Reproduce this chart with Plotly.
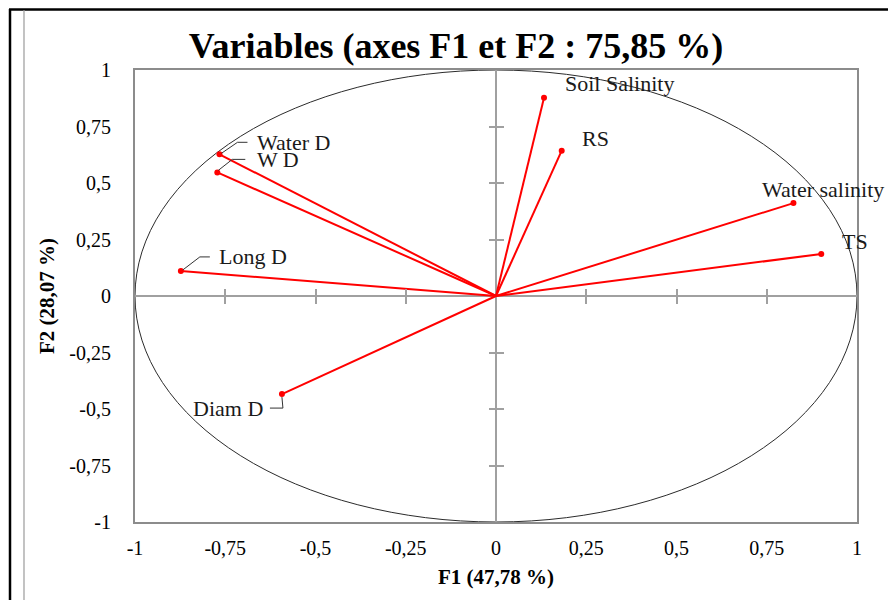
import plotly.graph_objects as go

# ---------------- data ----------------
variables = ["Soil Salinity", "RS", "Water salinity", "TS", "Water D", "W D", "Long D", "Diam D"]
f1 = [0.133, 0.182, 0.824, 0.901, -0.766, -0.772, -0.873, -0.593]
f2 = [0.877, 0.643, 0.411, 0.186, 0.627, 0.547, 0.111, -0.434]

tick_vals = [-1, -0.75, -0.5, -0.25, 0, 0.25, 0.5, 0.75, 1]
tick_text = ["-1", "-0,75", "-0,5", "-0,25", "0", "0,25", "0,5", "0,75", "1"]
minor_vals = [-0.75, -0.5, -0.25, 0.25, 0.5, 0.75]

title_text = "Variables (axes F1 et F2 : 75,85 %)"
x_title = "F1 (47,78 %)"
y_title = "F2 (28,07 %)"

# ---------------- styling / layout geometry ----------------
W, H = 896, 600
OFF = 8                      # page body margin of the browser
# plot area in page pixels
PL, PR, PT, PB = 135, 857, 70, 522
L, T = PL - OFF, PT - OFF
R, B = W - (PR - OFF), H - (PB - OFF)
pw, ph = PR - PL, PB - PT
sx, sy = pw / 2.0, ph / 2.0   # pixels per data unit

# label offsets in pixels (dx right, dy down) and anchor
label_style = {
    "Soil Salinity": (19, -14, "left"),
    "RS": (18, -12, "left"),
    "Water salinity": (-33, -14, "left"),
    "TS": (19, -12, "left"),
    "Water D": (36, -12, "left"),
    "W D": (38, -13, "left"),
    "Long D": (36, -14, "left"),
    "Diam D": (-17, 14, "right"),
}
# leader lines (pixel offsets from the point): start, bend, end
leaders = {
    "Water D": [(2, -1), (18, -12), (28, -12)],
    "W D": [(1, -2), (15, -13), (28, -13)],
    "Long D": [(2, -1), (19, -14), (29, -14)],
    "Diam D": [(0, 3), (1, 14), (-12, 14)],
}

FONT = "Liberation Serif"
RED = "#ff0000"
GRAY = "#8c8c8c"

fig = go.Figure()

# vectors from origin
lx, ly = [], []
for a, b in zip(f1, f2):
    lx += [0, a, None]
    ly += [0, b, None]
fig.add_trace(go.Scatter(x=lx, y=ly, mode="lines", line=dict(color=RED, width=2),
                         hoverinfo="skip", showlegend=False))
fig.add_trace(go.Scatter(x=f1, y=f2, mode="markers", marker=dict(color=RED, size=6),
                         text=variables, showlegend=False))

# leader lines
for name, a, b in zip(variables, f1, f2):
    if name in leaders:
        xs = [a + dx / sx for dx, dy in leaders[name]]
        ys = [b - dy / sy for dx, dy in leaders[name]]
        fig.add_trace(go.Scatter(x=xs, y=ys, mode="lines", line=dict(color="#333333", width=1),
                                 hoverinfo="skip", showlegend=False))

# dummy traces to instantiate tick-only overlay axes on the zero lines
fig.add_trace(go.Scatter(x=[0], y=[0], xaxis="x2", yaxis="y2", mode="markers",
                         marker=dict(opacity=0), hoverinfo="skip", showlegend=False))
fig.add_trace(go.Scatter(x=[0], y=[0], xaxis="x3", yaxis="y3", mode="markers",
                         marker=dict(opacity=0), hoverinfo="skip", showlegend=False))

# labels
for name, a, b in zip(variables, f1, f2):
    dx, dy, anc = label_style[name]
    fig.add_annotation(x=a, y=b, text=name, showarrow=False, xanchor=anc, yanchor="middle",
                       xshift=dx, yshift=-dy, font=dict(family=FONT, size=22, color="#1a1a1a"))

# correlation circle
fig.add_shape(type="circle", xref="x", yref="y", x0=-1, y0=-1, x1=1, y1=1,
              line=dict(color="#2b2b2b", width=1), layer="below")

# page frame (page pixel -> paper coords)
def px(xp):
    return (xp - PL) / pw

def py(yp):
    return (PB - yp) / ph

fig.add_shape(type="line", xref="paper", yref="paper", x0=px(10), x1=px(10), y0=py(9), y1=py(640),
              line=dict(color="black", width=2.5))
fig.add_shape(type="line", xref="paper", yref="paper", x0=px(9), x1=px(920), y0=py(9.5), y1=py(9.5),
              line=dict(color="black", width=2.5))
fig.add_shape(type="line", xref="paper", yref="paper", x0=px(24), x1=px(24), y0=py(10), y1=py(640),
              line=dict(color="#9a9a9a", width=1.2))
fig.add_shape(type="line", xref="paper", yref="paper", x0=px(894), x1=px(894), y0=py(11), y1=py(640),
              line=dict(color="#9a9a9a", width=1.2))

# axis titles
fig.add_annotation(xref="paper", yref="paper", x=0.5, y=py(577), text="<b>" + x_title + "</b>",
                   showarrow=False, xanchor="center", yanchor="middle",
                   font=dict(family=FONT, size=21, color="black"))
fig.add_annotation(xref="paper", yref="paper", x=px(47), y=0.5, text="<b>" + y_title + "</b>",
                   showarrow=False, textangle=-90, xanchor="center", yanchor="middle",
                   font=dict(family=FONT, size=21, color="black"))

axis_common = dict(range=[-1, 1], showgrid=False, fixedrange=True)
overlay_common = dict(**axis_common, anchor="free", position=0.5, tickvals=minor_vals, ticklen=7,
                      tickcolor="#a0a0a0", tickwidth=1.5, showticklabels=False, showline=False,
                      zeroline=False)

fig.update_layout(
    width=W, height=H,
    margin=dict(l=L, r=R, t=T, b=B),
    paper_bgcolor="white", plot_bgcolor="white",
    font=dict(family=FONT, color="black"),
    title=dict(text="<b>" + title_text + "</b>", x=(456 - OFF) / W, xref="container", xanchor="center",
               y=1 - (45 - OFF) / H, yref="container", yanchor="middle",
               font=dict(family=FONT, size=36, color="black")),
    xaxis=dict(**axis_common, tickvals=tick_vals, ticktext=tick_text, ticks="",
               showline=True, mirror=True, linecolor=GRAY, linewidth=2,
               zeroline=True, zerolinecolor="#a0a0a0", zerolinewidth=1.5,
               tickfont=dict(family=FONT, size=20, color="black"), ticklabelstandoff=7),
    yaxis=dict(**axis_common, tickvals=tick_vals, ticktext=tick_text, ticks="",
               showline=True, mirror=True, linecolor=GRAY, linewidth=2,
               zeroline=True, zerolinecolor="#a0a0a0", zerolinewidth=1.5,
               tickfont=dict(family=FONT, size=20, color="black"), ticklabelstandoff=18),
    xaxis2=dict(**overlay_common, overlaying="x", ticks="outside"),
    yaxis2=dict(**overlay_common, overlaying="y", ticks="outside"),
    xaxis3=dict(**overlay_common, overlaying="x", ticks="inside"),
    yaxis3=dict(**overlay_common, overlaying="y", ticks="inside"),
    showlegend=False,
)

fig.write_html("out.html")
